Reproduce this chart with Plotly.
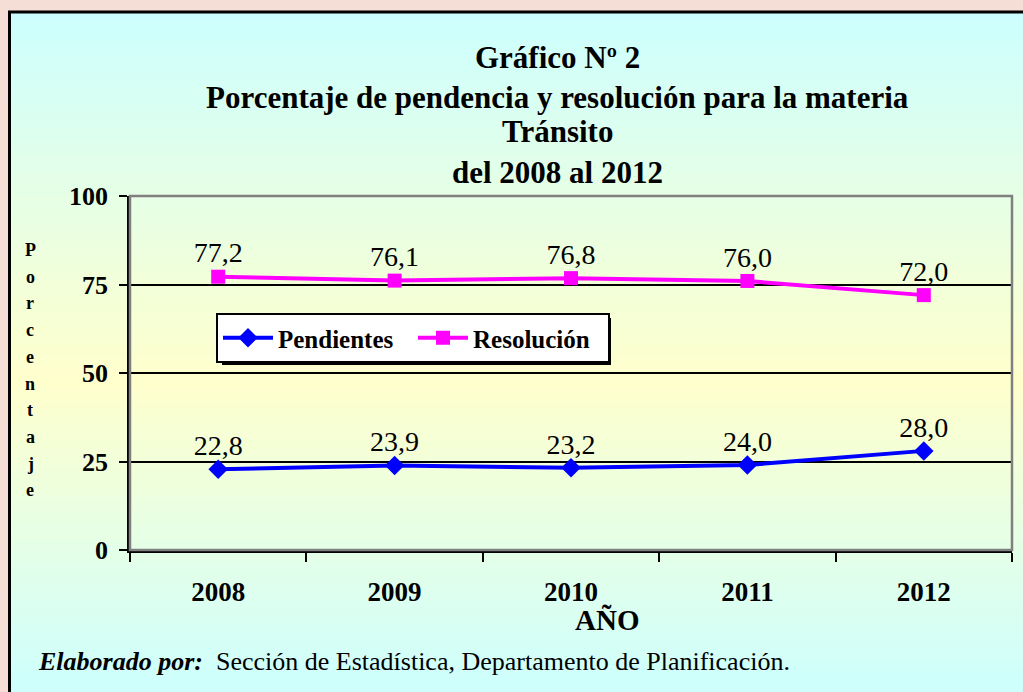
import plotly.graph_objects as go

years = ["2008", "2009", "2010", "2011", "2012"]
pendientes = [22.8, 23.9, 23.2, 24.0, 28.0]
resolucion = [77.2, 76.1, 76.8, 76.0, 72.0]
y_ticks = [0, 25, 50, 75, 100]
title_lines = ["Gráfico Nº 2",
               "Porcentaje de pendencia y resolución para la materia",
               "Tránsito",
               "del 2008 al 2012"]
y_title = "Porcentaje"
x_title = "AÑO"
source_bold = "Elaborado por:"
source_text = "Sección de Estadística, Departamento de Planificación."

W, H = 1023, 692
L, R, T, B = 130, 11, 196, 142
PW, PH = W - L - R, H - T - B
FONT = "Liberation Serif"


def px(x):
    return (x - L) / PW


def py(y):
    return (H - B - y) / PH


def fmt(v):
    return f"{v:.1f}".replace(".", ",")


def mix(c1, c2, t):
    a = [int(c1[i:i + 2], 16) for i in (1, 3, 5)]
    b = [int(c2[i:i + 2], 16) for i in (1, 3, 5)]
    return "rgb(%d,%d,%d)" % tuple(round(a[k] + (b[k] - a[k]) * t) for k in range(3))


fig = go.Figure()
fig.add_trace(go.Scatter(
    x=years, y=pendientes, name="Pendientes", mode="lines+markers",
    line=dict(color="#0000FF", width=4),
    marker=dict(symbol="diamond", size=15, color="#0000FF"),
))
fig.add_trace(go.Scatter(
    x=years, y=resolucion, name="Resolución", mode="lines+markers",
    line=dict(color="#FF00FF", width=4),
    marker=dict(symbol="square", size=14, color="#FF00FF"),
))
for vals in (pendientes, resolucion):
    fig.add_trace(go.Scatter(
        x=years, y=vals, mode="markers+text", showlegend=False, hoverinfo="skip",
        marker=dict(size=10, opacity=0),
        text=[fmt(v) for v in vals], textposition="top center",
        textfont=dict(family=FONT, size=28, color="black"),
    ))

shapes = []
# gradient background box
top, mid, bot = 12, 380, 700
N = 90
step = (bot - top) / N
for i in range(N):
    y0 = top + i * step
    yc = y0 + step / 2
    if yc < mid:
        c = mix("#CCFFFF", "#FFFFCC", (yc - top) / (mid - top))
    else:
        c = mix("#FFFFCC", "#CCFFFF", (yc - mid) / (bot - mid))
    shapes.append(dict(type="rect", xref="paper", yref="paper", layer="below",
                       x0=px(9), x1=px(1030), y0=py(y0), y1=py(y0 + step + 0.6),
                       fillcolor=c, line=dict(width=0)))
# outer border
shapes.append(dict(type="rect", xref="paper", yref="paper", layer="below",
                   x0=px(9.5), x1=px(1040), y0=py(12), y1=py(720),
                   fillcolor="rgba(0,0,0,0)", line=dict(color="black", width=3)))
# plot frame (gray top/right)
shapes.append(dict(type="rect", xref="paper", yref="paper", layer="above",
                   x0=0, x1=1, y0=0, y1=1,
                   fillcolor="rgba(0,0,0,0)", line=dict(color="#808080", width=2.5)))
# legend shadow
shapes.append(dict(type="rect", xref="paper", yref="paper", layer="above",
                   x0=px(222), x1=px(611), y0=py(318), y1=py(365),
                   fillcolor="black", line=dict(width=0)))

annotations = []
title_y = [57, 97, 132, 172]
for txt, yy in zip(title_lines, title_y):
    annotations.append(dict(text=txt, xref="paper", yref="paper",
                            x=px(557), y=py(yy), xanchor="center", yanchor="middle",
                            showarrow=False,
                            font=dict(family=FONT, size=31, color="black", weight="bold")))
for i, ch in enumerate(y_title):
    annotations.append(dict(text=ch, xref="paper", yref="paper",
                            x=px(30), y=py(250 + i * 26.7), xanchor="center", yanchor="middle",
                            showarrow=False,
                            font=dict(family=FONT, size=18, color="black", weight="bold")))
annotations.append(dict(text=x_title, xref="paper", yref="paper",
                        x=px(607), y=py(620), xanchor="center", yanchor="middle",
                        showarrow=False, font=dict(family=FONT, size=29, color="black", weight="bold")))
annotations.append(dict(text=f"<b><i>{source_bold}</i></b>  {source_text}", xref="paper", yref="paper",
                        x=px(36), y=py(661), xanchor="left", yanchor="middle",
                        showarrow=False, font=dict(family=FONT, size=26, color="black")))

fig.update_layout(
    width=W, height=H,
    margin=dict(l=L, r=R, t=T, b=B, pad=0),
    paper_bgcolor="#F4DED6",
    plot_bgcolor="rgba(0,0,0,0)",
    showlegend=True,
    legend=dict(orientation="h", x=px(216), y=py(313), xanchor="left", yanchor="top",
                bgcolor="white", bordercolor="black", borderwidth=2,
                font=dict(family=FONT, size=25, color="black", weight="bold"),
                itemwidth=50, entrywidth=130, tracegroupgap=0),
    shapes=shapes,
    annotations=annotations,
    xaxis=dict(type="category", categoryorder="array", categoryarray=years,
               range=[-0.5, 4.5],
               tickson="boundaries", ticks="outside", ticklen=9, tickwidth=2, tickcolor="black",
               showline=True, linecolor="black", linewidth=3, showgrid=False,
               ticklabelstandoff=16,
               tickfont=dict(family=FONT, size=27, color="black", weight="bold"),
               zeroline=False),
    yaxis=dict(range=[0, 100], tickvals=y_ticks, ticks="outside", ticklen=8, tickwidth=2,
               tickcolor="black", showline=True, linecolor="black", linewidth=2.5,
               showgrid=True, gridcolor="black", gridwidth=2, zeroline=False,
               ticklabelstandoff=6,
               tickfont=dict(family=FONT, size=26, color="black", weight="bold")),
)

fig.write_html("out.html", config={"displayModeBar": False},
               post_script="document.body.style.margin='0';")
